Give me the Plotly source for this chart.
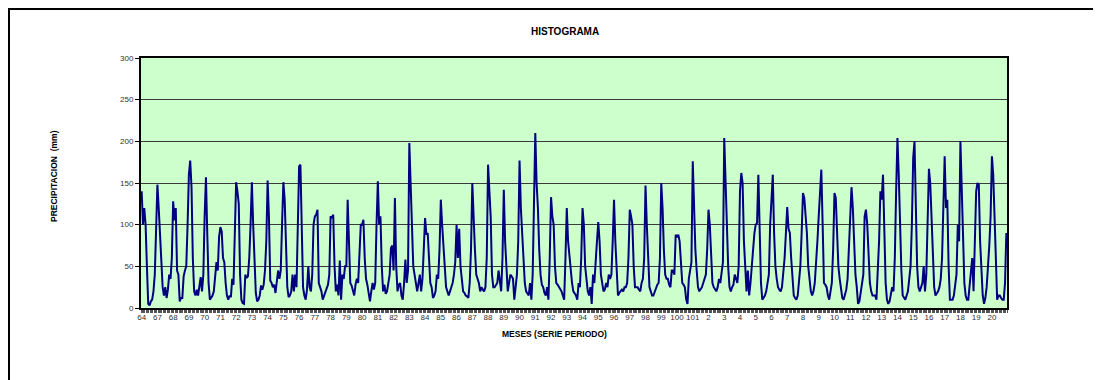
import plotly.graph_objects as go

year_labels = ["64", "67", "68", "69", "70", "71", "72", "73", "74", "75", "76", "77",
               "78", "79", "80", "81", "82", "83", "84", "85", "86", "87", "88", "89",
               "90", "91", "92", "93", "94", "95", "96", "97", "98", "99", "100", "101",
               "2", "3", "4", "5", "6", "7", "8", "9", "10", "11", "12", "13", "14",
               "15", "16", "17", "18", "19", "20"]

# monthly precipitation (mm), one row per year
precip = [
    140, 100, 120, 100, 50, 5, 3, 8, 10, 20, 40, 90,
    148, 120, 85, 50, 25, 15, 25, 12, 22, 40, 35, 60,
    128, 105, 120, 45, 40, 8, 12, 12, 38, 45, 50, 100,
    160, 177, 145, 60, 20, 15, 22, 15, 25, 37, 20, 40,
    110, 157, 90, 30, 10, 12, 15, 20, 40, 55, 45, 85,
    97, 92, 60, 55, 30, 15, 10, 15, 13, 35, 28, 80,
    151, 140, 125, 40, 10, 6, 5, 40, 36, 38, 60, 100,
    151, 100, 45, 18, 8, 10, 15, 27, 22, 28, 45, 80,
    153, 110, 33, 30, 25, 28, 18, 35, 45, 35, 45, 100,
    151, 130, 80, 25, 13, 15, 20, 40, 20, 40, 25, 100,
    170, 172, 100, 25, 15, 10, 22, 50, 25, 20, 40, 100,
    110, 112, 118, 30, 25, 20, 10, 15, 20, 25, 28, 40,
    110, 108, 112, 50, 20, 28, 15, 57, 10, 40, 35, 50,
    50, 130, 60, 30, 27, 22, 15, 28, 35, 30, 65, 100,
    100, 106, 60, 35, 28, 20, 8, 20, 30, 22, 30, 100,
    152, 100, 110, 50, 20, 28, 17, 20, 28, 40, 72, 75,
    45, 132, 50, 20, 28, 30, 15, 10, 30, 58, 30, 45,
    198, 130, 100, 50, 40, 25, 20, 30, 40, 20, 35, 70,
    108, 88, 90, 60, 30, 25, 12, 15, 20, 40, 35, 70,
    130, 100, 70, 50, 25, 20, 15, 20, 25, 30, 40, 55,
    100, 60, 95, 50, 35, 20, 18, 15, 14, 12, 30, 70,
    150, 100, 70, 40, 35, 30, 20, 25, 22, 20, 25, 60,
    172, 135, 110, 40, 25, 25, 28, 30, 45, 30, 20, 60,
    142, 80, 45, 20, 30, 40, 38, 35, 10, 25, 40, 80,
    177, 120, 90, 50, 30, 20, 18, 15, 30, 10, 40, 120,
    210, 150, 120, 70, 40, 28, 25, 18, 15, 25, 10, 60,
    133, 110, 100, 50, 30, 28, 25, 22, 20, 15, 10, 60,
    120, 80, 60, 40, 30, 20, 18, 15, 10, 30, 25, 60,
    120, 100, 50, 30, 20, 15, 25, 5, 40, 30, 50, 80,
    103, 80, 40, 30, 20, 22, 30, 25, 40, 35, 40, 80,
    130, 80, 40, 15, 18, 20, 22, 20, 25, 25, 30, 60,
    118, 110, 100, 50, 25, 25, 25, 22, 20, 30, 35, 60,
    147, 100, 50, 25, 20, 15, 15, 20, 25, 28, 30, 60,
    150, 120, 70, 40, 35, 35, 28, 25, 45, 45, 40, 88,
    85, 88, 80, 60, 30, 28, 25, 10, 5, 35, 45, 55,
    176, 120, 70, 45, 25, 20, 22, 25, 30, 35, 40, 70,
    118, 100, 55, 30, 25, 22, 20, 25, 35, 30, 40, 55,
    204, 150, 100, 50, 25, 20, 25, 28, 40, 35, 30, 50,
    140, 162, 150, 80, 40, 20, 45, 15, 30, 50, 75, 90,
    100, 102, 160, 80, 30, 10, 12, 15, 20, 28, 40, 100,
    140, 160, 90, 50, 35, 25, 22, 20, 25, 40, 60, 90,
    121, 95, 90, 60, 40, 15, 12, 10, 15, 35, 50, 90,
    138, 132, 110, 90, 50, 30, 20, 15, 20, 30, 50, 80,
    110, 140, 166, 100, 30, 28, 25, 15, 10, 20, 30, 70,
    138, 132, 80, 50, 35, 25, 12, 10, 15, 22, 35, 70,
    110, 145, 120, 80, 40, 25, 5, 8, 20, 30, 40, 110,
    118, 100, 70, 30, 20, 15, 15, 15, 10, 40, 80, 140,
    130, 160, 100, 30, 10, 5, 8, 15, 25, 20, 60, 140,
    204, 160, 100, 45, 15, 12, 10, 15, 20, 35, 50, 100,
    180, 200, 110, 50, 25, 20, 25, 30, 50, 20, 40, 100,
    167, 150, 110, 60, 25, 15, 18, 20, 25, 35, 60, 120,
    182, 120, 130, 50, 10, 10, 10, 15, 30, 40, 100, 80,
    200, 150, 80, 30, 15, 10, 10, 25, 45, 60, 20, 100,
    140, 150, 148, 80, 35, 15, 5, 12, 25, 45, 75, 110,
    182, 160, 100, 40, 10, 15, 15, 12, 10, 10, 30, 90,
]

months_per_year = 12
month_index = list(range(len(precip)))
tick_positions = [i * months_per_year for i in range(len(year_labels))]

FONT = "Liberation Sans, Arial, sans-serif"

# page offset of the plotly div (body margin)
OFF = 8
FIG_W, FIG_H = 1101 - OFF, 380 - OFF

# plot area in page pixels: x 141..1007, y 58..308
L, R, T, B = 141, 1007, 58, 308
W, H = R - L, B - T

def px(x):
    return (x - L) / W

def py(y):
    return (B - y) / H

fig = go.Figure()
fig.add_trace(go.Scatter(
    x=month_index, y=precip, mode="lines",
    line=dict(color="#000080", width=2),
    showlegend=False, hoverinfo="x+y",
))

fig.update_layout(
    width=FIG_W, height=FIG_H,
    margin=dict(l=L - OFF, r=FIG_W - (R - OFF), t=T - OFF, b=FIG_H - (B - OFF), pad=0),
    paper_bgcolor="white",
    plot_bgcolor="#CCFFCC",
    font=dict(family=FONT, size=8, color="#333333"),
    xaxis=dict(
        range=[-0.5, len(precip) - 0.5],
        tickmode="array", tickvals=tick_positions, ticktext=year_labels,
        tickangle=0, ticks="", showgrid=False, zeroline=False,
        showline=True, linecolor="black", linewidth=2, mirror=True,
        tickfont=dict(family=FONT, size=8, color="#333333"),
        minor=dict(tickmode="linear", tick0=-0.5, dtick=1, ticks="outside",
                   ticklen=3, tickwidth=1, tickcolor="#555555", showgrid=False),
    ),
    yaxis=dict(
        range=[0, 300], tickmode="linear", tick0=0, dtick=50,
        ticks="outside", ticklen=4, tickcolor="black",
        showgrid=True, gridcolor="#3a3a3a", gridwidth=1, zeroline=False,
        showline=True, linecolor="black", linewidth=2, mirror=True,
        tickfont=dict(family=FONT, size=8, color="#333333"),
    ),
    annotations=[
        dict(text="<b>HISTOGRAMA</b>", xref="paper", yref="paper",
             x=px(565), y=py(32), xanchor="center", yanchor="middle",
             showarrow=False, font=dict(family=FONT, size=10, color="black")),
        dict(text="<b>MESES (SERIE PERIODO)</b>", xref="paper", yref="paper",
             x=px(554), y=py(334), xanchor="center", yanchor="middle",
             showarrow=False, font=dict(family=FONT, size=8.5, color="black")),
        dict(text="<b>PRECIPITACION  (mm)</b>", xref="paper", yref="paper",
             x=px(54), y=py(176), xanchor="center", yanchor="middle",
             textangle=-90, showarrow=False,
             font=dict(family=FONT, size=8.5, color="black")),
    ],
    shapes=[
        dict(type="rect", xref="paper", yref="paper",
             x0=px(9), x1=px(1120), y0=py(400), y1=py(9),
             line=dict(color="black", width=2), fillcolor="rgba(0,0,0,0)",
             layer="above"),
    ],
)

fig.write_html("out.html")
